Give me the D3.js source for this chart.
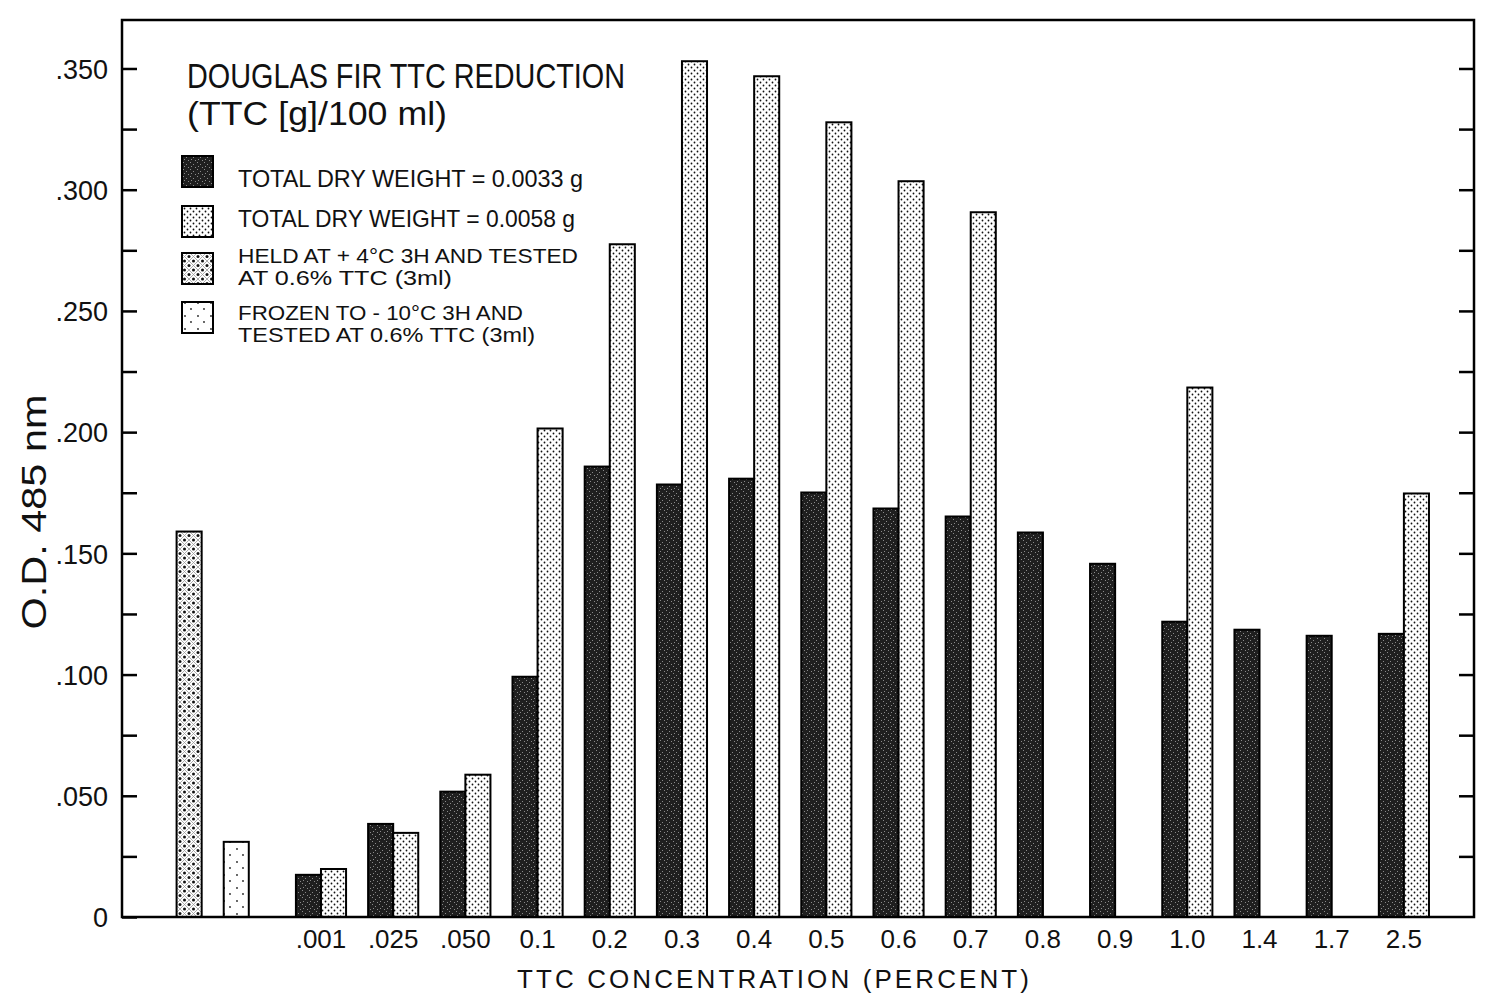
<!DOCTYPE html>
<html>
<head>
<meta charset="utf-8">
<script src="https://cdn.jsdelivr.net/npm/d3@7"></script>
<style>
  body { margin: 0; background: #fff; }
  text { font-family: "Liberation Sans", Arial, sans-serif; fill: #111; }
</style>
</head>
<body>
<div id="chart"></div>
<script>

// categories along the x axis (first two are the single test bars, no label)
var categories = ["held", "frozen", ".001", ".025", ".050", "0.1", "0.2", "0.3", "0.4", "0.5",
  "0.6", "0.7", "0.8", "0.9", "1.0", "1.4", "1.7", "2.5"];
var tickLabels = ["", "", ".001", ".025", ".050", "0.1", "0.2", "0.3", "0.4", "0.5",
  "0.6", "0.7", "0.8", "0.9", "1.0", "1.4", "1.7", "2.5"];

// O.D. 485 nm values
var dryWeight33 = [null, null, 0.0174, 0.0384, 0.0517, 0.0991, 0.1858, 0.1784, 0.1808, 0.1751,
  0.1685, 0.1652, 0.1586, 0.1457, 0.1218, 0.1185, 0.1160, 0.1168];
var dryWeight58 = [null, null, 0.0198, 0.0347, 0.0587, 0.2015, 0.2775, 0.3530, 0.3468, 0.3278,
  0.3035, 0.2907, null, null, 0.2184, null, null, 0.1747];
var heldPlus4 = [0.159, null, null, null, null, null, null, null, null, null,
  null, null, null, null, null, null, null, null];
var frozenMinus10 = [null, 0.031, null, null, null, null, null, null, null, null,
  null, null, null, null, null, null, null, null];

var yTickValues = [0.025, 0.05, 0.075, 0.1, 0.125, 0.15, 0.175, 0.2, 0.225, 0.25,
  0.275, 0.3, 0.325, 0.35];

var svgW = 1486, svgH = 997;
var frame = {left: 122, top: 20, right: 1474, bottom: 917};

var svg = d3.select("#chart").append("svg")
  .attr("width", svgW)
  .attr("height", svgH);

/****** PATTERNS ******/
var defs = svg.append("defs");

var pDark = defs.append("pattern").attr("id", "pat-dark")
  .attr("patternUnits", "userSpaceOnUse").attr("width", 7).attr("height", 7);
pDark.append("rect").attr("width", 7).attr("height", 7).attr("fill", "#1f1f1f");
[[1, 1], [4, 3], [2, 5], [6, 6]].forEach(function(p) {
  pDark.append("rect").attr("x", p[0]).attr("y", p[1]).attr("width", 1).attr("height", 1).attr("fill", "#8a8a8a");
});

var pDots = defs.append("pattern").attr("id", "pat-dots")
  .attr("patternUnits", "userSpaceOnUse").attr("width", 6).attr("height", 6);
pDots.append("rect").attr("width", 6).attr("height", 6).attr("fill", "#fff");
pDots.append("circle").attr("cx", 1.5).attr("cy", 1.5).attr("r", 0.9).attr("fill", "#111");
pDots.append("circle").attr("cx", 4.5).attr("cy", 4.5).attr("r", 0.9).attr("fill", "#111");

var pHeld = defs.append("pattern").attr("id", "pat-held")
  .attr("patternUnits", "userSpaceOnUse").attr("width", 9).attr("height", 9);
pHeld.append("rect").attr("width", 9).attr("height", 9).attr("fill", "#fff");
pHeld.append("path").attr("d", "M0,0L9,9M9,0L0,9").attr("stroke", "#999").attr("stroke-width", 0.8);
[[4.5, 0], [4.5, 9], [0, 4.5], [9, 4.5]].forEach(function(p) {
  pHeld.append("circle").attr("cx", p[0]).attr("cy", p[1]).attr("r", 1.5).attr("fill", "#111");
});

var pSparse = defs.append("pattern").attr("id", "pat-sparse")
  .attr("patternUnits", "userSpaceOnUse").attr("width", 13).attr("height", 13);
pSparse.append("rect").attr("width", 13).attr("height", 13).attr("fill", "#fff");
pSparse.append("circle").attr("cx", 3).attr("cy", 4).attr("r", 0.9).attr("fill", "#222");
pSparse.append("circle").attr("cx", 9).attr("cy", 10).attr("r", 0.9).attr("fill", "#222");

/****** SCALES ******/
var x = d3.scaleBand()
  .domain(categories)
  .range([140.5, 1440]);

var sub = d3.scaleBand()
  .domain(["a", "b"])
  .range([0, x.bandwidth()])
  .paddingOuter(0.44);

var y = d3.scaleLinear()
  .domain([0, 0.37])
  .range([frame.bottom, frame.top]);

/****** BARS ******/
var series = [
  {key: "dw33", values: dryWeight33, slot: "a", fill: "url(#pat-dark)"},
  {key: "dw58", values: dryWeight58, slot: "b", fill: "url(#pat-dots)"},
  {key: "held", values: heldPlus4, slot: "b", fill: "url(#pat-held)"},
  {key: "frozen", values: frozenMinus10, slot: "a", fill: "url(#pat-sparse)"}
];

var bars = [];
series.forEach(function(s) {
  s.values.forEach(function(v, i) {
    if (v != null) bars.push({cat: categories[i], value: v, slot: s.slot, fill: s.fill});
  });
});

svg.append("g")
  .selectAll("rect")
  .data(bars)
  .enter()
  .append("rect")
    .attr("x", function(d) { return x(d.cat) + sub(d.slot); })
    .attr("y", function(d) { return y(d.value); })
    .attr("width", sub.bandwidth())
    .attr("height", function(d) { return y(0) - y(d.value); })
    .attr("fill", function(d) { return d.fill; })
    .attr("stroke", "#000")
    .attr("stroke-width", 2);

/****** AXES ******/
var leftAxis = d3.axisLeft(y)
  .tickValues(yTickValues.concat([0]))
  .tickSizeInner(-15)
  .tickSizeOuter(0)
  .tickPadding(14)
  .tickFormat(function(d) {
    if (d === 0) return "0";
    var k = Math.round(d * 1000);
    if (k % 50 !== 0) return "";
    return d3.format(".3f")(d).slice(1);
  });

var gl = svg.append("g")
  .attr("transform", "translate(" + frame.left + ",0)")
  .call(leftAxis);
gl.select(".domain").remove();
gl.selectAll("line").attr("stroke", "#000").attr("stroke-width", 2.5);
gl.selectAll("text").style("font-size", "27px").attr("dy", "0.36em")
  .style("font-family", "'Liberation Sans', Arial, sans-serif");

var rightAxis = d3.axisRight(y)
  .tickValues(yTickValues)
  .tickSizeInner(-15)
  .tickSizeOuter(0)
  .tickFormat("");

var gr = svg.append("g")
  .attr("transform", "translate(" + frame.right + ",0)")
  .call(rightAxis);
gr.select(".domain").remove();
gr.selectAll("line").attr("stroke", "#000").attr("stroke-width", 2.5);

var bottomAxis = d3.axisBottom(x)
  .tickSize(0)
  .tickPadding(13)
  .tickFormat(function(d, i) { return tickLabels[i]; });

var gb = svg.append("g")
  .attr("transform", "translate(0," + frame.bottom + ")")
  .call(bottomAxis);
gb.select(".domain").remove();
gb.selectAll("text").style("font-size", "26px")
  .style("font-family", "'Liberation Sans', Arial, sans-serif");

// frame
svg.append("rect")
  .attr("x", frame.left)
  .attr("y", frame.top)
  .attr("width", frame.right - frame.left)
  .attr("height", frame.bottom - frame.top)
  .attr("fill", "none")
  .attr("stroke", "#000")
  .attr("stroke-width", 2.5);

/****** AXIS TITLES ******/
svg.append("text")
  .attr("x", 773)
  .attr("y", 988)
  .attr("text-anchor", "middle")
  .attr("textLength", 512)
  .style("font-size", "26px")
  .text("TTC CONCENTRATION (PERCENT)");

svg.append("text")
  .attr("transform", "translate(46,512) rotate(-90)")
  .attr("text-anchor", "middle")
  .attr("textLength", 235)
  .attr("lengthAdjust", "spacingAndGlyphs")
  .style("font-size", "35px")
  .text("O.D. 485 nm");

/****** TITLE & LEGEND ******/
svg.append("text")
  .attr("x", 187).attr("y", 88)
  .attr("textLength", 438)
  .attr("lengthAdjust", "spacingAndGlyphs")
  .style("font-size", "35px")
  .text("DOUGLAS FIR TTC REDUCTION");

svg.append("text")
  .attr("x", 187).attr("y", 125)
  .attr("textLength", 260)
  .attr("lengthAdjust", "spacingAndGlyphs")
  .style("font-size", "34px")
  .text("(TTC [g]/100 ml)");

var legendRows = [
  {fill: "url(#pat-dark)", top: 156, lines: ["TOTAL DRY WEIGHT = 0.0033 g"], base: [187], len: [345], size: 24},
  {fill: "url(#pat-dots)", top: 206, lines: ["TOTAL DRY WEIGHT = 0.0058 g"], base: [227], len: [337], size: 24},
  {fill: "url(#pat-held)", top: 253, lines: ["HELD AT + 4°C 3H AND TESTED", "AT 0.6% TTC (3ml)"], base: [263, 285], len: [340, 214], size: 20},
  {fill: "url(#pat-sparse)", top: 302, lines: ["FROZEN TO - 10°C 3H AND", "TESTED AT 0.6% TTC (3ml)"], base: [320, 342], len: [285, 297], size: 20}
];

var legend = svg.append("g");
legendRows.forEach(function(r) {
  legend.append("rect")
    .attr("x", 182).attr("y", r.top)
    .attr("width", 31).attr("height", 31)
    .attr("fill", r.fill)
    .attr("stroke", "#000")
    .attr("stroke-width", 2);
  r.lines.forEach(function(t, i) {
    legend.append("text")
      .attr("x", 238).attr("y", r.base[i])
      .attr("textLength", r.len[i])
      .attr("lengthAdjust", "spacingAndGlyphs")
      .style("font-size", r.size + "px")
      .text(t);
  });
});

</script>
</body>
</html>
